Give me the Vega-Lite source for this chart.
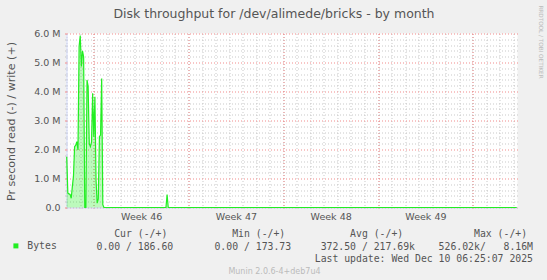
{
  "$schema": "https://vega.github.io/schema/vega-lite/v6.json",
  "width": 451,
  "height": 174,
  "autosize": {"type": "none"},
  "padding": {"left": 66.5, "top": 33.5, "right": 29.5, "bottom": 72.5},
  "background": "#F0F0F0",
  "config": {"view": {"fill": "#FFFFFF", "stroke": null}, "axis": {"zindex": 0}},
  "data": {
    "values": [
      {"t": "2025-11-07T00:00:00Z", "v": 1750000, "series": "Bytes"},
      {"t": "2025-11-07T02:00:00Z", "v": 500000, "series": "Bytes"},
      {"t": "2025-11-07T04:00:00Z", "v": 470000, "series": "Bytes"},
      {"t": "2025-11-07T06:00:00Z", "v": 450000, "series": "Bytes"},
      {"t": "2025-11-07T08:00:00Z", "v": 320000, "series": "Bytes"},
      {"t": "2025-11-07T10:00:00Z", "v": 720000, "series": "Bytes"},
      {"t": "2025-11-07T12:00:00Z", "v": 1080000, "series": "Bytes"},
      {"t": "2025-11-07T14:00:00Z", "v": 2100000, "series": "Bytes"},
      {"t": "2025-11-07T16:00:00Z", "v": 2150000, "series": "Bytes"},
      {"t": "2025-11-07T18:00:00Z", "v": 2270000, "series": "Bytes"},
      {"t": "2025-11-07T20:00:00Z", "v": 1980000, "series": "Bytes"},
      {"t": "2025-11-07T22:00:00Z", "v": 5550000, "series": "Bytes"},
      {"t": "2025-11-08T00:00:00Z", "v": 5930000, "series": "Bytes"},
      {"t": "2025-11-08T02:00:00Z", "v": 4860000, "series": "Bytes"},
      {"t": "2025-11-08T04:00:00Z", "v": 5400000, "series": "Bytes"},
      {"t": "2025-11-08T06:00:00Z", "v": 5200000, "series": "Bytes"},
      {"t": "2025-11-08T08:00:00Z", "v": 0, "series": "Bytes"},
      {"t": "2025-11-08T10:00:00Z", "v": 0, "series": "Bytes"},
      {"t": "2025-11-08T12:00:00Z", "v": 4400000, "series": "Bytes"},
      {"t": "2025-11-08T14:00:00Z", "v": 4170000, "series": "Bytes"},
      {"t": "2025-11-08T16:00:00Z", "v": 2200000, "series": "Bytes"},
      {"t": "2025-11-08T18:00:00Z", "v": 2100000, "series": "Bytes"},
      {"t": "2025-11-08T20:00:00Z", "v": 2250000, "series": "Bytes"},
      {"t": "2025-11-08T22:00:00Z", "v": 3940000, "series": "Bytes"},
      {"t": "2025-11-09T00:00:00Z", "v": 2440000, "series": "Bytes"},
      {"t": "2025-11-09T02:00:00Z", "v": 3820000, "series": "Bytes"},
      {"t": "2025-11-09T04:00:00Z", "v": 950000, "series": "Bytes"},
      {"t": "2025-11-09T06:00:00Z", "v": 150000, "series": "Bytes"},
      {"t": "2025-11-09T08:00:00Z", "v": 300000, "series": "Bytes"},
      {"t": "2025-11-09T10:00:00Z", "v": 2440000, "series": "Bytes"},
      {"t": "2025-11-09T12:00:00Z", "v": 2500000, "series": "Bytes"},
      {"t": "2025-11-09T14:00:00Z", "v": 4450000, "series": "Bytes"},
      {"t": "2025-11-09T16:00:00Z", "v": 100000, "series": "Bytes"},
      {"t": "2025-11-09T18:00:00Z", "v": 0, "series": "Bytes"},
      {"t": "2025-11-14T08:00:00Z", "v": 0, "series": "Bytes"},
      {"t": "2025-11-14T10:00:00Z", "v": 450000, "series": "Bytes"},
      {"t": "2025-11-14T12:00:00Z", "v": 0, "series": "Bytes"},
      {"t": "2025-12-10T06:00:00Z", "v": 0, "series": "Bytes"}
    ]
  },
  "layer": [
    {
      "mark": {"type": "area", "color": "#22EE22", "opacity": 0.3},
      "encoding": {
        "x": {"field": "t", "type": "temporal", "scale": {"type": "utc", "nice": false, "domain": [{"year": 2025, "month": 11, "date": 6, "hours": 23, "minutes": 38, "utc": true}, {"year": 2025, "month": 12, "date": 10, "hours": 7, "minutes": 18, "utc": true}]}, "axis": null},
        "y": {"field": "v", "type": "quantitative", "scale": {"domain": [0, 6000000], "nice": false}, "axis": null}
      }
    },
    {
      "mark": {"type": "line", "strokeWidth": 1.2},
      "encoding": {
        "x": {"field": "t", "type": "temporal", "scale": {"type": "utc", "nice": false, "domain": [{"year": 2025, "month": 11, "date": 6, "hours": 23, "minutes": 38, "utc": true}, {"year": 2025, "month": 12, "date": 10, "hours": 7, "minutes": 18, "utc": true}]},
          "axis": {"orient": "bottom", "zindex": 0, "tickCount": {"interval": "day", "step": 1}, "labels": false, "domain": false,
            "grid": true, "gridColor": "#BBBBBB", "gridOpacity": 0.8, "gridDash": [1, 2], "gridWidth": 1,
            "ticks": true, "tickSize": 3, "tickColor": "#BBBBBB", "tickOpacity": 0.8, "tickDash": [1, 2],
            "title": [
              "\u200b\u00a0\u00a0\u00a0Cur\u00a0(-/+)\u00a0\u00a0\u00a0\u00a0\u00a0\u00a0\u00a0\u00a0\u00a0\u00a0\u00a0Min\u00a0(-/+)\u00a0\u00a0\u00a0\u00a0\u00a0\u00a0\u00a0\u00a0\u00a0\u00a0\u00a0Avg\u00a0(-/+)\u00a0\u00a0\u00a0\u00a0\u00a0\u00a0\u00a0\u00a0\u00a0\u00a0\u00a0\u00a0Max\u00a0(-/+)",
              "0.00\u00a0/\u00a0186.60\u00a0\u00a0\u00a0\u00a0\u00a0\u00a0\u00a00.00\u00a0/\u00a0173.73\u00a0\u00a0\u00a0\u00a0\u00a0372.50\u00a0/\u00a0217.69k\u00a0\u00a0\u00a0\u00a0526.02k/\u00a0\u00a0\u00a08.16M",
              "\u200b\u00a0\u00a0\u00a0\u00a0\u00a0\u00a0\u00a0\u00a0\u00a0\u00a0\u00a0\u00a0\u00a0\u00a0\u00a0\u00a0\u00a0\u00a0\u00a0\u00a0\u00a0\u00a0\u00a0\u00a0\u00a0\u00a0\u00a0\u00a0\u00a0\u00a0\u00a0\u00a0\u00a0\u00a0\u00a0\u00a0\u00a0Last\u00a0update:\u00a0Wed\u00a0Dec\u00a010\u00a006:25:07\u00a02025"
            ],
            "titleX": 29.5, "titleY": 21, "titleAlign": "left", "titleBaseline": "top", "titleAngle": 0,
            "titleFont": "DejaVu Sans Mono", "titleFontSize": 9.8, "titleFontWeight": "normal", "titleColor": "#555555", "titleLineHeight": 12.7, "titleLimit": 1000}},
        "y": {"field": "v", "type": "quantitative", "scale": {"domain": [0, 6000000], "nice": false},
          "axis": {"orient": "left", "zindex": 0, "values": [200000, 400000, 600000, 800000, 1200000, 1400000, 1600000, 1800000, 2200000, 2400000, 2600000, 2800000, 3200000, 3400000, 3600000, 3800000, 4200000, 4400000, 4600000, 4800000, 5200000, 5400000, 5600000, 5800000],
            "labels": false, "grid": true, "gridColor": "#BBBBBB", "gridOpacity": 0.8, "gridDash": [1, 2], "gridWidth": 1,
            "ticks": true, "tickSize": 2, "tickColor": "#BBBBBB", "tickOpacity": 0.8,
            "domain": true, "domainColor": "#CFD6F8", "domainWidth": 1, "title": null}},
        "color": {"field": "series", "type": "nominal", "scale": {"range": ["#22EE22"]},
          "legend": {"orient": "none", "legendX": -55.5, "legendY": 207.5, "title": null, "padding": 0,
            "symbolType": "square", "symbolSize": 25, "symbolStrokeWidth": 0, "labelOffset": 6.5,
            "labelFont": "DejaVu Sans Mono", "labelFontSize": 9.8, "labelColor": "#555555",
            "encode": {"symbols": {"update": {"fill": {"value": "#22EE22"}, "stroke": {"value": "#22EE22"}, "opacity": {"value": 1}}}}}}
      }
    },
    {
      "mark": {"type": "line", "opacity": 0},
      "encoding": {
        "x": {"field": "t", "type": "temporal", "scale": {"type": "utc", "nice": false, "domain": [{"year": 2025, "month": 11, "date": 6, "hours": 23, "minutes": 38, "utc": true}, {"year": 2025, "month": 12, "date": 10, "hours": 7, "minutes": 18, "utc": true}]},
          "axis": {"orient": "bottom", "zindex": 0, "tickCount": {"interval": "week", "step": 1}, "labels": false, "domain": false,
            "grid": true, "gridColor": "#F08080", "gridOpacity": 0.9, "gridDash": [1, 2], "gridWidth": 1,
            "ticks": true, "tickSize": 3, "tickColor": "#F08080", "tickOpacity": 0.9, "tickDash": [1, 2], "title": null}},
        "y": {"field": "v", "type": "quantitative", "scale": {"domain": [0, 6000000], "nice": false},
          "axis": {"orient": "left", "zindex": 0, "values": [0, 1000000, 2000000, 3000000, 4000000, 5000000, 6000000],
            "labelExpr": "datum.value == 0 ? '0.0\u00a0\u00a0' : format(datum.value / 1000000, '.1f') + ' M'",
            "labelFont": "DejaVu Sans", "labelFontSize": 9.5, "labelColor": "#555555", "labelPadding": 4.5, "labelOverlap": false, "labelFlush": false,
            "grid": true, "gridColor": "#F08080", "gridOpacity": 0.9, "gridDash": [1, 2], "gridWidth": 1,
            "ticks": true, "tickSize": 2, "tickColor": "#F08080", "tickOpacity": 0.9, "domain": false,
            "title": "Pr second read (-) / write (+)", "titleX": -55, "titleY": 87.5, "titleAngle": 270, "titleAlign": "center", "titleBaseline": "middle",
            "titleFont": "DejaVu Sans", "titleFontSize": 11.1, "titleFontWeight": "normal", "titleColor": "#555555", "titleLimit": 1000}}
      }
    },
    {
      "mark": {"type": "line", "opacity": 0},
      "encoding": {
        "x": {"field": "t", "type": "temporal", "scale": {"type": "utc", "nice": false, "domain": [{"year": 2025, "month": 11, "date": 6, "hours": 23, "minutes": 38, "utc": true}, {"year": 2025, "month": 12, "date": 10, "hours": 7, "minutes": 18, "utc": true}]},
          "axis": {"orient": "bottom", "zindex": 0,
            "values": [{"year": 2025, "month": 11, "date": 12, "hours": 12, "utc": true}, {"year": 2025, "month": 11, "date": 19, "hours": 12, "utc": true}, {"year": 2025, "month": 11, "date": 26, "hours": 12, "utc": true}, {"year": 2025, "month": 12, "date": 3, "hours": 12, "utc": true}],
            "labelExpr": "'Week ' + utcFormat(datum.value, '%V')",
            "labelFont": "DejaVu Sans", "labelFontSize": 9.5, "labelColor": "#555555", "labelPadding": 9, "labelBaseline": "middle", "labelOverlap": false, "labelFlush": false,
            "grid": false, "ticks": false, "domain": true, "domainColor": "#CFD6F8", "domainWidth": 1,
            "title": "Munin 2.0.6-4+deb7u4", "titleX": 207.5, "titleY": 64, "titleAlign": "center", "titleBaseline": "middle", "titleAngle": 0,
            "titleFont": "DejaVu Sans", "titleFontSize": 8, "titleFontWeight": "normal", "titleColor": "#BBBBBB", "titleLimit": 1000}},
        "y": {"field": "v", "type": "quantitative", "scale": {"domain": [0, 6000000], "nice": false},
          "axis": {"orient": "right", "zindex": 0, "labels": false, "ticks": false, "grid": false, "domain": false,
            "title": "RRDTOOL / TOBI OETIKER", "titleX": 23, "titleY": 8, "titleAngle": 90, "titleAlign": "center", "titleBaseline": "middle",
            "titleFont": "DejaVu Sans", "titleFontSize": 5.7, "titleFontWeight": "normal", "titleColor": "#BBBBBB", "titleLimit": 1000}}
      }
    },
    {
      "mark": {"type": "line", "opacity": 0},
      "encoding": {
        "x": {"field": "t", "type": "temporal", "scale": {"type": "utc", "nice": false, "domain": [{"year": 2025, "month": 11, "date": 6, "hours": 23, "minutes": 38, "utc": true}, {"year": 2025, "month": 12, "date": 10, "hours": 7, "minutes": 18, "utc": true}]},
          "axis": {"orient": "top", "zindex": 0, "labels": false, "ticks": false, "grid": false, "domain": false,
            "title": "Disk throughput for /dev/alimede/bricks - by month", "titleX": 207, "titleY": -20, "titleAlign": "center", "titleBaseline": "middle", "titleAngle": 0,
            "titleFont": "DejaVu Sans", "titleFontSize": 12.5, "titleFontWeight": "normal", "titleColor": "#555555", "titleLimit": 1000}},
        "y": {"field": "v", "type": "quantitative", "scale": {"domain": [0, 6000000], "nice": false}, "axis": null}
      }
    }
  ],
  "resolve": {"axis": {"x": "independent", "y": "independent"}}
}
